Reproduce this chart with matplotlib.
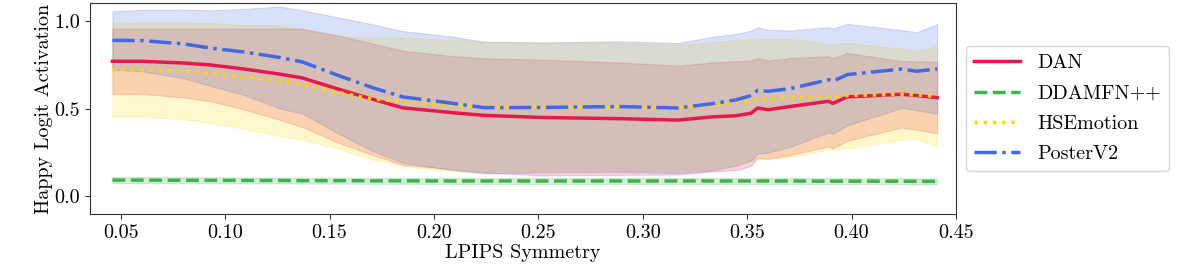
import numpy as np
import matplotlib
matplotlib.use('Agg')
import matplotlib.pyplot as plt

plt.rcParams['font.family'] = ['cmr10', 'DejaVu Serif']
plt.rcParams['mathtext.fontset'] = 'cm'
plt.rcParams['axes.formatter.use_mathtext'] = True

# ==================== data ====================
lpips = [0.046, 0.060, 0.080, 0.093, 0.109, 0.126, 0.137, 0.154, 0.170, 0.185,
         0.208, 0.224, 0.251, 0.289, 0.317, 0.333, 0.345, 0.352, 0.355, 0.360,
         0.371, 0.389, 0.391, 0.398, 0.424, 0.431, 0.441]

dan_mean = [0.770, 0.770, 0.760, 0.749, 0.726, 0.697, 0.675, 0.612, 0.556, 0.505,
            0.478, 0.462, 0.450, 0.443, 0.435, 0.453, 0.460, 0.475, 0.504, 0.494,
            0.513, 0.542, 0.530, 0.567, 0.582, 0.575, 0.563]
dan_std = [0.186, 0.186, 0.196, 0.207, 0.230, 0.260, 0.280, 0.305, 0.317, 0.325,
           0.323, 0.325, 0.330, 0.320, 0.310, 0.310, 0.310, 0.300, 0.285, 0.280,
           0.276, 0.257, 0.257, 0.250, 0.189, 0.195, 0.203]

ddamfn_mean = [0.093, 0.093, 0.092, 0.092, 0.091, 0.091, 0.090, 0.090, 0.089, 0.089,
               0.088, 0.088, 0.088, 0.088, 0.088, 0.088, 0.088, 0.088, 0.088, 0.088,
               0.088, 0.087, 0.087, 0.087, 0.087, 0.086, 0.086]
ddamfn_std = [0.017] * len(lpips)

hse_mean = [0.721, 0.722, 0.715, 0.703, 0.681, 0.660, 0.637, 0.593, 0.557, 0.540,
            0.517, 0.512, 0.510, 0.510, 0.508, 0.517, 0.535, 0.548, 0.557, 0.557,
            0.561, 0.568, 0.566, 0.574, 0.582, 0.578, 0.570]
hse_std = [0.268, 0.268, 0.275, 0.285, 0.295, 0.315, 0.315, 0.320, 0.345, 0.365,
           0.376, 0.370, 0.368, 0.364, 0.355, 0.361, 0.355, 0.347, 0.343, 0.340,
           0.336, 0.300, 0.298, 0.300, 0.259, 0.250, 0.285]

poster_mean = [0.889, 0.888, 0.869, 0.845, 0.823, 0.792, 0.766, 0.690, 0.622, 0.567,
               0.532, 0.506, 0.507, 0.512, 0.504, 0.528, 0.551, 0.575, 0.604, 0.599,
               0.615, 0.665, 0.656, 0.694, 0.726, 0.713, 0.726]
poster_std = [0.166, 0.175, 0.195, 0.215, 0.245, 0.290, 0.294, 0.330, 0.360, 0.375,
              0.380, 0.375, 0.370, 0.372, 0.370, 0.381, 0.375, 0.370, 0.360, 0.350,
              0.330, 0.300, 0.300, 0.289, 0.222, 0.222, 0.255]

models = ['DAN', 'DDAMFN++', 'HSEmotion', 'PosterV2']
means = [dan_mean, ddamfn_mean, hse_mean, poster_mean]
stds = [dan_std, ddamfn_std, hse_std, poster_std]
colors = ['#E6194B', '#3CB44B', '#FFD700', '#4169E1']
styles = ['-', '--', ':', '-.']

# ==================== plot ====================
fig = plt.figure(figsize=(11.96, 2.67), dpi=100)
ax = fig.add_axes([0.0753, 0.1985, 0.724, 0.789])

x = np.array(lpips)
for name, m, s, c, ls in zip(models, means, stds, colors, styles):
    m = np.array(m)
    s = np.array(s)
    ax.plot(x, m, color=c, linestyle=ls, linewidth=2.5, label=name, zorder=3)
    ax.fill_between(x, m - s, m + s, color=c, alpha=0.2, linewidth=0.8, zorder=2)

ax.set_xlim(0.0353, 0.45)
ax.set_ylim(-0.1, 1.1)
ax.set_xticks([0.05, 0.10, 0.15, 0.20, 0.25, 0.30, 0.35, 0.40, 0.45])
ax.set_xticklabels(['0.05', '0.10', '0.15', '0.20', '0.25', '0.30', '0.35', '0.40', '0.45'])
ax.set_yticks([0.0, 0.5, 1.0])
ax.set_yticklabels(['0.0', '0.5', '1.0'])
ax.tick_params(labelsize=14.5, length=3.5, color='0.2')
for sp in ax.spines.values():
    sp.set_color('0.2')

ax.set_xlabel('LPIPS Symmetry', fontsize=14.5, labelpad=2)
ax.set_ylabel('Happy Logit Activation', fontsize=14.5, labelpad=1)

ax.legend(loc='center left', bbox_to_anchor=(1.0, 0.5), fontsize=14.5,
          handlelength=2.3, handletextpad=0.85, labelspacing=0.6, framealpha=0.8)

fig.savefig('out.png', dpi=100)
